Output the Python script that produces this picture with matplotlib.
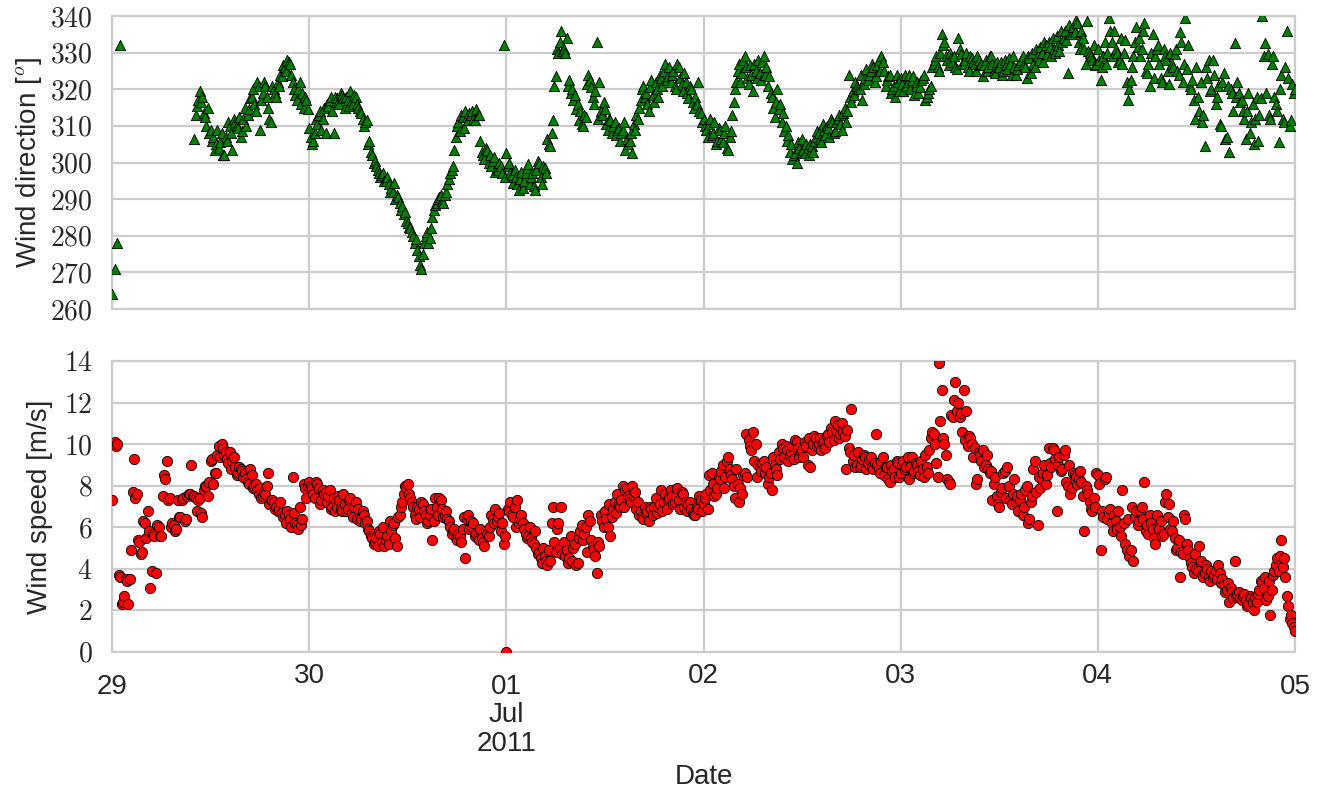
import numpy as np
import pandas as pd
import matplotlib
matplotlib.use("Agg")
import matplotlib.pyplot as plt
import matplotlib.dates as mdates
from matplotlib.ticker import FixedLocator, FixedFormatter, FuncFormatter, MultipleLocator
from datetime import datetime

nan = np.nan

# ---------------- data: 10-min samples, 29 Jun 2011 00:00 -> 05 Jul 2011 00:00 ----------------
# "_a" lists: samples at hh:00, hh:20, hh:40 ; "_b" lists: samples at hh:10, hh:30, hh:50
speed_jun29_a = [7.3, 10.1, 10.0, 3.6, 2.4, 3.5, 2.3, 4.9, 9.3, 7.6, 5.3, 4.8,
                 6.2, 6.8, 3.1, 5.7, 3.8, 6.0, 5.6, 8.5, 9.2, 7.4, 6.2, 5.8,
                 7.3, 6.5, 7.4, 6.4, 7.6, 9.0, 7.5, 6.8, 7.4, 6.5, 8.0, 7.5,
                 9.2, 8.1, 8.6, 9.9, 10.0, 9.5, 9.3, 9.6, 9.2, 8.9, 8.6, 8.8,
                 8.4, 8.3, 8.1, 8.5, 8.0, 7.8, 7.9, 7.5, 7.6, 8.6, 7.3, 7.2,
                 7.0, 6.9, 6.7, 6.6, 6.8, 6.4, 8.4, 6.2, 5.9, 6.1, 8.1, 7.4]
speed_jun29_b = [10.0, 9.9, 3.7, 2.3, 2.7, 3.4, 3.5, 7.7, 7.4, 5.4, 4.7, 6.3,
                 5.5, 5.8, 3.9, 5.6, 6.1, 5.6, 7.5, 8.3, 7.3, 6.0, 6.1, 5.9,
                 6.5, 7.3, 6.3, 7.5, 7.6, 7.5, 7.4, 7.3, 6.7, 7.8, 8.0, 8.2,
                 9.3, 8.6, 9.5, 9.4, 9.8, 9.6, 9.1, 8.8, 9.4, 8.5, 8.9, 8.7,
                 8.6, 8.2, 8.8, 7.9, 8.1, 7.6, 7.4, 7.7, 8.0, 7.1, 7.3, 6.9,
                 6.8, 7.2, 6.5, 6.2, 6.6, 6.0, 6.7, 6.1, 7.0, 6.4, 7.9, 8.0]
speed_jun30_a = [8.2, 7.9, 7.4, 8.1, 7.1, 7.8, 7.7, 7.5, 6.9, 7.4, 7.0, 7.3,
                 6.8, 7.1, 6.9, 7.4, 6.5, 7.2, 6.9, 6.4, 6.6, 6.3, 5.8, 5.5,
                 5.3, 5.1, 5.7, 6.0, 5.4, 5.2, 5.8, 6.2, 5.1, 6.6, 7.2, 8.0,
                 8.1, 7.4, 7.0, 6.4, 6.9, 7.2, 6.8, 6.2, 6.6, 5.4, 7.4, 6.6,
                 7.3, 6.5, 6.8, 6.3, 5.7, 5.9, 5.4, 5.6, 5.9, 4.5, 6.6, 6.3,
                 6.2, 5.7, 5.4, 5.5, 5.1, 5.7, 6.0, 6.4, 6.9, 6.5, 5.8, 5.2]
speed_jun30_b = [8.0, 7.6, 8.2, 7.9, 7.3, 7.6, 7.2, 7.8, 7.0, 6.8, 7.5, 6.9,
                 7.6, 6.8, 7.3, 6.7, 7.0, 6.4, 6.3, 6.8, 6.2, 5.9, 5.6, 5.2,
                 5.5, 5.8, 5.3, 5.1, 5.6, 6.3, 6.1, 5.5, 6.5, 7.0, 7.6, 7.9,
                 7.6, 7.2, 6.6, 7.0, 6.5, 7.1, 6.6, 6.3, 6.9, 6.3, 7.0, 7.4,
                 6.9, 6.6, 6.4, 6.0, 5.8, 5.5, 5.7, 5.3, 6.5, 6.4, 5.9, 6.0,
                 5.6, 5.5, 5.9, 5.3, 5.8, 5.6, 6.6, 6.2, 6.3, 6.7, 6.2, 5.6]
speed_jul01_a = [0.0, 6.8, 6.6, 7.0, 7.3, 6.4, 6.2, 5.7, 5.6, 5.5, 5.2, 5.0,
                 4.8, 4.3, 4.6, 4.2, 4.4, 7.0, 4.8, 6.2, 7.0, 5.3, 4.9, 4.5,
                 4.4, 5.2, 4.3, 5.8, 5.4, 6.0, 6.6, 5.4, 4.9, 3.8, 5.1, 6.3,
                 6.8, 6.0, 5.6, 6.9, 6.7, 7.1, 7.3, 7.0, 7.9, 7.4, 8.0, 7.7,
                 7.2, 6.8, 6.4, 6.7, 6.3, 6.9, 7.0, 6.7, 7.1, 6.8, 7.6, 7.3,
                 7.8, 7.1, 7.5, 7.3, 7.7, 7.0, 6.8, 7.2, 6.7, 6.6, 6.9, 7.3]
speed_jul01_b = [6.9, 7.2, 6.5, 6.0, 6.2, 6.6, 5.9, 5.5, 6.0, 5.3, 5.8, 4.7,
                 4.5, 5.0, 4.4, 4.9, 6.2, 5.3, 5.9, 5.0, 4.7, 4.6, 4.3, 5.6,
                 5.0, 4.2, 5.5, 6.1, 5.7, 4.8, 6.3, 5.1, 4.6, 5.3, 6.6, 6.0,
                 6.4, 7.1, 6.5, 7.2, 7.6, 7.0, 8.0, 7.8, 7.5, 7.2, 7.5, 6.9,
                 6.6, 6.5, 7.0, 6.8, 7.0, 6.6, 7.4, 7.0, 7.8, 7.2, 6.9, 7.4,
                 7.5, 7.2, 7.9, 6.9, 7.6, 7.2, 7.1, 6.9, 6.6, 7.0, 7.5, 6.8]
speed_jul02_a = [7.1, 7.6, 8.5, 8.6, 7.5, 7.9, 8.3, 9.0, 8.4, 9.4, 8.5, 8.0,
                 8.8, 7.2, 7.6, 8.6, 8.4, 9.9, 10.6, 10.0, 9.0, 8.7, 9.2, 8.9,
                 8.4, 7.8, 9.0, 8.5, 9.3, 9.8, 9.9, 9.2, 9.6, 9.3, 10.1, 9.4,
                 9.7, 10.1, 9.0, 8.9, 10.0, 10.3, 10.0, 9.7, 10.2, 10.4, 10.1, 10.6,
                 11.1, 10.9, 10.5, 10.6, 8.8, 9.8, 11.7, 9.5, 9.0, 8.9, 9.3, 9.4,
                 9.1, 9.4, 8.8, 10.5, 8.8, 9.2, 8.5, 8.9, 8.2, 8.7, 8.4, 9.1]
speed_jul02_b = [7.4, 6.9, 7.8, 8.1, 7.6, 8.4, 8.7, 7.9, 9.2, 8.8, 8.3, 7.4,
                 8.1, 7.9, 8.5, 10.5, 10.2, 9.7, 9.2, 8.4, 8.9, 9.1, 8.6, 8.1,
                 8.6, 9.4, 8.8, 9.6, 10.0, 9.4, 9.7, 9.5, 9.9, 10.2, 9.8, 9.6,
                 9.4, 9.9, 10.3, 9.7, 10.4, 9.9, 10.3, 10.1, 9.8, 10.5, 10.8, 10.2,
                 10.7, 10.3, 11.0, 10.4, 10.7, 9.6, 9.2, 8.9, 9.6, 9.0, 9.5, 8.8,
                 9.3, 8.9, 9.1, 9.0, 8.6, 9.4, 8.9, 8.3, 9.0, 8.8, 9.2, 8.4]
speed_jul03_a = [8.6, 9.2, 8.9, 8.3, 9.4, 8.7, 9.0, 8.5, 8.8, 9.5, 8.6, 10.3,
                 10.5, 9.1, 13.9, 12.6, 10.0, 8.3, 8.1, 11.3, 13.0, 12.0, 11.5, 12.6,
                 11.6, 10.4, 10.0, 9.8, 8.3, 9.5, 9.7, 9.0, 8.8, 8.7, 8.1, 7.5,
                 7.0, 7.9, 8.7, 8.9, 7.3, 7.6, 7.2, 6.8, 7.6, 7.0, 8.0, 6.4,
                 7.5, 9.2, 6.1, 7.9, 8.6, 8.1, 9.8, 8.9, 9.7, 6.8, 9.4, 8.8,
                 9.7, 8.0, 7.6, 8.6, 8.4, 8.3, 8.2, 5.8, 7.8, 7.2, 6.8, 7.0]
speed_jul03_b = [9.0, 8.8, 9.4, 8.9, 8.6, 9.1, 8.7, 9.2, 8.4, 8.9, 9.7, 10.6,
                 10.0, 8.4, 11.1, 10.3, 9.5, 8.2, 11.4, 12.1, 11.6, 11.3, 10.6, 10.2,
                 9.9, 10.3, 9.4, 8.1, 9.6, 9.2, 8.9, 9.5, 8.6, 7.3, 8.4, 7.1,
                 7.7, 8.6, 7.4, 8.0, 7.1, 8.3, 7.5, 7.3, 6.6, 7.8, 6.2, 7.2,
                 8.8, 7.7, 8.4, 8.3, 9.0, 8.5, 9.1, 9.8, 9.3, 9.0, 8.7, 9.5,
                 8.2, 9.0, 7.9, 8.5, 8.1, 8.7, 7.5, 8.0, 7.6, 6.9, 7.4, 8.6]
speed_jul04_a = [8.5, 4.9, 6.5, 8.4, 6.7, 6.2, 6.6, 5.9, 6.0, 7.8, 5.2, 6.4,
                 4.9, 4.4, 6.8, 6.3, 7.0, 8.2, 6.1, 6.6, 5.9, 5.2, 6.0, 6.3,
                 5.7, 7.6, 7.1, 5.8, 5.5, 5.0, 3.6, 4.7, 6.4, 4.9, 4.3, 3.8,
                 4.0, 5.1, 3.7, 3.8, 4.0, 3.4, 3.6, 3.9, 4.2, 3.3, 3.2, 3.0,
                 2.4, 2.9, 4.4, 2.8, 2.6, 2.7, 2.5, 2.3, 2.6, 2.0, 2.4, 3.0,
                 3.3, 3.6, 2.7, 1.8, 3.7, 4.2, 3.9, 5.4, 4.5, 2.7, 1.6, 1.4]
speed_jul04_b = [8.1, 6.8, 8.3, 6.4, 6.9, 5.8, 6.3, 6.8, 5.6, 6.2, 4.9, 4.6,
                 7.0, 6.5, 6.1, 6.8, 6.4, 5.8, 5.7, 6.2, 5.5, 6.6, 5.9, 5.6,
                 7.2, 6.5, 5.9, 6.3, 4.9, 5.4, 4.8, 6.6, 5.2, 4.5, 4.1, 4.7,
                 3.9, 4.4, 3.6, 4.2, 3.6, 3.9, 3.7, 3.5, 3.8, 3.5, 2.9, 3.3,
                 3.1, 2.6, 2.7, 2.9, 2.5, 2.8, 2.2, 2.7, 2.4, 2.6, 2.8, 3.4,
                 3.1, 2.5, 3.4, 3.0, 3.9, 4.5, 4.6, 4.1, 3.6, 2.2, 1.8, 1.2]
speed_end = [1.0]

dir_jun29_a = [264, 271, 278, 332, nan, nan, nan, nan, nan, nan, nan, nan,
               nan, nan, nan, nan, nan, nan, nan, nan, nan, nan, nan, nan,
               nan, nan, nan, nan, nan, nan, 306.5, 315.5, 319.5, 318, 312.5, 315,
               309, 307, 305, 304, 308, 302, 306, 310, 303.5, 311, 309.5, 307,
               312, 310, 314.5, 318, 316, 322, 309, 319, 321, 315, 311, 320,
               318, 321, 323.5, 326, 328, 327, 322, 318.5, 320, 316, 315, 317]
dir_jun29_b = [nan, nan, nan, nan, nan, nan, nan, nan, nan, nan, nan, nan,
               nan, nan, nan, nan, nan, nan, nan, nan, nan, nan, nan, nan,
               nan, nan, nan, nan, nan, nan, 313, 317, 316.5, 313.5, 310, 308,
               306, 303.5, 309, 305.5, 302, 307, 311, 308, 312, 310, 312.5, 308.5,
               315, 313, 317.5, 320, 314, 321, 317, 322, 318, 312, 321, 319,
               322, 324, 326.5, 325, 327.5, 324, 320, 317, 322, 319, 318, 314.5]
dir_jun30_a = [309.5, 305, 308, 310.5, 314, 312, 308, 315.5, 318, 308, 317.5, 316,
               318.5, 315, 317, 319.5, 316, 318, 315, 313.5, 310, 311.5, 306, 302,
               300.5, 298, 296, 297, 295, 294, 293, 294.5, 291, 289, 288, 286.5,
               283.5, 282, 280, 279, 274.5, 271, 278, 281, 279.5, 285, 288.5, 290,
               291, 289, 292, 295.5, 298, 303.5, 310, 308.5, 312.5, 314, 311.5, 313,
               312, 314.5, 313, 303, 301, 303.5, 302, 300.5, 297.5, 298, 299, 332]
dir_jun30_b = [307, 306, 312, 313, 309, 315, 316, 317, 314, 318, 316.5, 319,
               317.5, 318, 315.5, 317, 318.5, 316, 314, 312, 311, 305, 303, 300,
               299, 297, 296.5, 295, 296, 292, 292, 290, 290.5, 287, 286, 284,
               282.5, 281, 278, 276, 272, 275, 280, 278, 282, 287, 289, 290.5,
               289.5, 291, 294, 297, 299, 307, 311, 313, 309.5, 312.5, 313.5, 314,
               311.5, 313, 306, 302, 304, 300, 299, 301.5, 298.5, 300, 297, 296]
dir_jul01_a = [302.5, 300, 296.5, 298, 294, 295.5, 293, 297, 299.5, 296, 293.5, 298,
               300, 294, 298.5, 306.5, 304.5, 311.5, 323.5, 330, 336, 331, 334, 322.5,
               320, 318.5, 316, 314, 310, 312.5, 324, 320.5, 316, 333, 322, 313,
               314.5, 309, 311.5, 310, 307.5, 309.5, 308, 311, 306.5, 306, 302.5, 309,
               312, 317, 321, 319, 314, 322.5, 316.5, 320, 324, 321, 327, 323.5,
               322, 325, 320, 326, 321.5, 324.5, 319, 321, 316.5, 318, 322, 313.5]
dir_jul01_b = [299, 297, 294.5, 296, 292.5, 297.5, 295, 298.5, 294, 297, 292.5, 300.5,
               296, 299, 297, 305, 308, 321, 331, 333, 330.5, 330, 321, 319,
               317, 314.5, 311.5, 310.5, 313, 321.5, 322.5, 318, 319.5, 312, 314, 316.5,
               310.5, 312, 308, 311, 309, 306, 309, 303.5, 305, 308, 310.5, 313,
               315, 320, 318, 316, 320.5, 318.5, 322, 318, 323, 325, 322.5, 326,
               324, 321, 327, 323, 319.5, 322, 317.5, 320, 315, 316, 314, 311]
dir_jul02_a = [312, 309, 310.5, 307.5, 311, 306, 309, 305.5, 310, 303.5, 308.5, 316.5,
               322, 327, 324.5, 329, 323, 326.5, 319.5, 325, 328, 322.5, 329, 326,
               323.5, 318, 312.5, 320, 316, 313.5, 310, 307.5, 305, 302, 300, 304,
               306.5, 302.5, 304, 305, 303, 307, 308, 305.5, 309, 310, 307, 311,
               308.5, 312, 310.5, 313.5, 311, 324, 316.5, 318.5, 321, 320, 317, 323,
               322.5, 325, 326, 323.5, 328, 329, 325, 322.5, 324, 320, 318, 322]
dir_jul02_b = [310, 307, 312, 308, 305, 309.5, 306.5, 308, 304, 307, 313, 320,
               325, 322, 328, 326, 321.5, 324, 327, 323, 324.5, 327.5, 324, 321,
               319, 315, 316.5, 314.5, 311, 308.5, 306, 303, 301, 302.5, 305.5, 303,
               303.5, 305, 302, 304.5, 306, 308.5, 306.5, 310.5, 307.5, 309.5, 312, 308,
               311, 313, 309, 315, 314, 318, 319.5, 322, 320, 324, 321.5, 325.5,
               324, 327, 322, 326.5, 325, 327.5, 321, 323.5, 319, 321, 324, 319.5]
dir_jul03_a = [323, 319.5, 321, 324, 322.5, 318.5, 322, 320.5, 323, 317, 319, 321,
               327, 329, 325, 335, 333, 328, 330, 327.5, 326, 334, 329.5, 327,
               330, 325, 328.5, 327, 329, 326.5, 323.5, 328, 326, 329, 325, 327.5,
               326, 324, 328, 325.5, 327, 329, 324, 326.5, 328, 327, 323, 328.5,
               330, 326, 329, 331.5, 327.5, 332, 333, 329, 331, 334.5, 330.5, 333,
               336, 324.5, 335, 337, 339, 333, 336, 331, 338.5, 330, 328, 326.5]
dir_jul03_b = [321.5, 324, 322, 320, 323.5, 321, 319, 322.5, 324, 318, 320, 326,
               328, 326, 330, 332, 329, 326.5, 328.5, 329, 325.5, 331, 327, 328,
               326, 329, 327.5, 325, 328, 327, 326.5, 325, 329, 327, 324.5, 326,
               327.5, 325, 326.5, 328.5, 324, 326, 325.5, 327.5, 329, 326, 329, 324.5,
               327, 331, 328, 330, 333, 329.5, 331.5, 334, 330, 332, 336, 334,
               333.5, 337.5, 335, 335.5, 338, 331, 334, 327, 330.5, 329, 332, 327]
dir_jul04_a = [331, 322.5, 329, 327, 339.5, 333, 336, 330, 328, 327, 333.5, 317,
               322.5, 329, 337, 334, 331, 338, 324.5, 321, 335, 329, 332, 323,
               331, 328, 321.5, 327, 329.5, 325, 335.5, 322, 339.5, 332, 320, 317,
               326, 314, 311, 304.5, 323, 319.5, 328, 316, 321, 310, 324.5, 307,
               303, 319, 332.5, 322, 316.5, 314, 306.5, 319, 311, 305, 318, 313,
               340, 332.5, 329.5, 312, 329, 316, 305.5, 324, 311, 336, 310, 321.5]
dir_jul04_b = [328, 326, 333, 330, 336, 329, 331, 327.5, 334, 330, 322, 320,
               326, 333, 331.5, 329, 336, 325, 327, 330, 323, 331, 327, 322,
               329, 325, 330, 326, 331, 324, 333, 327, 325.5, 321, 322.5, 312,
               318, 322, 313, 326, 328, 320, 324, 318, 310.5, 322, 306.5, 321,
               320, 314, 318, 319, 317, 312, 314, 308, 316, 312, 306, 317.5,
               329, 319, 313, 327, 318, 314, 320, 312, 326, 323, 311.5, 319]
dir_end = [320]

major_dates = ["2011-06-29", "2011-07-01", "2011-07-05"]
major_labels = ["29", "01\nJul\n2011", "05"]
minor_dates = ["2011-06-30", "2011-07-02", "2011-07-03", "2011-07-04"]
minor_labels = ["30", "02", "03", "04"]


def interleave(pairs, end):
    out = []
    for a, b in pairs:
        out.extend(np.column_stack([a, b]).ravel().tolist())
    return np.array(out + end, dtype=float)


speed = interleave([(speed_jun29_a, speed_jun29_b), (speed_jun30_a, speed_jun30_b),
                    (speed_jul01_a, speed_jul01_b), (speed_jul02_a, speed_jul02_b),
                    (speed_jul03_a, speed_jul03_b), (speed_jul04_a, speed_jul04_b)], speed_end)
direction = interleave([(dir_jun29_a, dir_jun29_b), (dir_jun30_a, dir_jun30_b),
                        (dir_jul01_a, dir_jul01_b), (dir_jul02_a, dir_jul02_b),
                        (dir_jul03_a, dir_jul03_b), (dir_jul04_a, dir_jul04_b)], dir_end)
times = pd.date_range("2011-06-29 00:00", periods=len(speed), freq="10min").to_pydatetime()

# ---------------- style ----------------
plt.rcParams["font.family"] = ["Liberation Sans", "DejaVu Sans"]
plt.rcParams["mathtext.fontset"] = "cm"
grid_c = "#cccccc"
text_c = "#262626"

fig = plt.figure(figsize=(13.22, 7.89), dpi=100)
ax1 = fig.add_axes([112 / 1322, 1 - 309 / 789, (1295 - 112) / 1322, (309 - 16) / 789])
ax2 = fig.add_axes([112 / 1322, 1 - 652 / 789, (1295 - 112) / 1322, (652 - 361) / 789], sharex=ax1)

ax1.scatter(times, direction, marker="^", s=55, c="#008000", edgecolors="black", linewidths=0.6, zorder=3)
ax2.scatter(times, speed, marker="o", s=55, c="#ff0000", edgecolors="black", linewidths=0.6, zorder=3)

ax1.set_ylim(260, 340)
ax1.yaxis.set_major_locator(MultipleLocator(10))
ax2.set_ylim(0, 14)
ax2.yaxis.set_major_locator(MultipleLocator(2))
ax2.set_xlim(datetime(2011, 6, 29), datetime(2011, 7, 5))

math_fmt = FuncFormatter(lambda v, p: r"$%d$" % round(v))
for ax in (ax1, ax2):
    ax.set_facecolor("white")
    ax.set_axisbelow(True)
    ax.yaxis.set_major_formatter(math_fmt)
    ax.grid(True, which="both", color=grid_c, linewidth=1.6)
    for sp in ax.spines.values():
        sp.set_color(grid_c)
        sp.set_linewidth(1.6)
    ax.tick_params(axis="y", length=0, labelsize=20, pad=14, colors=text_c)

maj = [mdates.date2num(pd.Timestamp(d).to_pydatetime()) for d in major_dates]
mnr = [mdates.date2num(pd.Timestamp(d).to_pydatetime()) for d in minor_dates]
ax2.xaxis.set_major_locator(FixedLocator(maj))
ax2.xaxis.set_major_formatter(FixedFormatter(major_labels))
ax2.xaxis.set_minor_locator(FixedLocator(mnr))
ax2.xaxis.set_minor_formatter(FixedFormatter(minor_labels))
ax2.tick_params(axis="x", which="major", length=0, pad=15.5, labelsize=20, colors=text_c)
ax2.tick_params(axis="x", which="minor", length=0, pad=8, labelsize=20, colors=text_c)
ax1.tick_params(axis="x", which="both", length=0, labelbottom=False)
for lab in ax2.xaxis.get_majorticklabels():
    lab.set_linespacing(1.14)

ax1.set_ylabel(r"Wind direction [$^o$]", fontsize=20, color=text_c, labelpad=4)
ax2.set_ylabel("Wind speed [m/s]", fontsize=20, color=text_c, labelpad=7.5)
ax2.set_xlabel("Date", fontsize=20, color=text_c, labelpad=5)

fig.savefig("out.png", dpi=100, facecolor="white")
